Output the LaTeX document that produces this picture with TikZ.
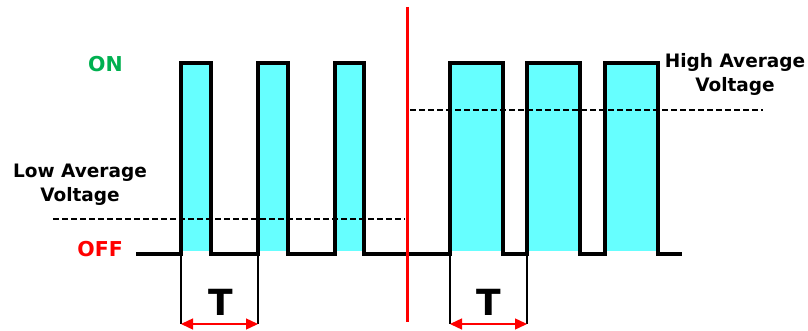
\documentclass[tikz,border=0pt]{standalone}
\usepackage{fontspec}
\setmainfont{DejaVu Sans}
\usepackage{tikz}
\usetikzlibrary{arrows.meta}
\definecolor{pulsecyan}{RGB}{102,255,255}
\definecolor{ongreen}{RGB}{0,176,80}

\begin{document}
\begin{tikzpicture}[x=1pt, y=-1pt]
        \useasboundingbox (0,0) rectangle (808,331);

        % Pulse fills
        \fill[pulsecyan] (181,63) rectangle (211,251);
        \fill[pulsecyan] (258,63) rectangle (288,251);
        \fill[pulsecyan] (335,63) rectangle (364,251);
        \fill[pulsecyan] (450,63) rectangle (503,251);
        \fill[pulsecyan] (527,63) rectangle (580,251);
        \fill[pulsecyan] (605,63) rectangle (658,251);

        % Average levels
        \draw[line width=1.9pt, dash pattern=on 6pt off 3pt] (53,219) -- (405,219);
        \draw[line width=1.9pt, dash pattern=on 6pt off 3pt] (410,110) -- (763,110);

        % Signal
        \draw[line width=3.3pt, line join=miter]
            (136,254) -- (181,254) -- (181,63) -- (211,63) -- (211,254)
            -- (258,254) -- (258,63) -- (288,63) -- (288,254)
            -- (335,254) -- (335,63) -- (364,63) -- (364,254)
            -- (450,254) -- (450,63) -- (503,63) -- (503,254)
            -- (527,254) -- (527,63) -- (580,63) -- (580,254)
            -- (605,254) -- (605,63) -- (658,63) -- (658,254) -- (682,254);

        % Divider
        \draw[red, line width=3pt] (407,7) -- (407,322);

        % Period markers
        \coordinate (a1) at (181,254);
        \coordinate (b1) at (258,254);
        \coordinate (a2) at (450,254);
        \coordinate (b2) at (527,254);
        \coordinate (a1e) at (181,324);
        \coordinate (b1e) at (258,324);
        \coordinate (a2e) at (450,324);
        \coordinate (b2e) at (527,324);
        \draw[line width=1.4pt] (a1) -- (a1e);
        \draw[line width=1.4pt] (b1) -- (b1e);
        \draw[line width=1.4pt] (a2) -- (a2e);
        \draw[line width=1.4pt] (b2) -- (b2e);
        \draw[red, line width=1.4pt, {Triangle[length=12pt, width=11pt]}-{Triangle[length=12pt, width=11pt]}] (a1e) -- (b1e);
        \draw[red, line width=1.4pt, {Triangle[length=12pt, width=11pt]}-{Triangle[length=12pt, width=11pt]}] (a2e) -- (b2e);

        % Labels
        \node[anchor=east, inner sep=0pt, text=ongreen, font=\fontsize{20.5}{24}\selectfont\bfseries] (on) at (123,64.5) {ON};
        \node[anchor=east, inner sep=0pt, text=red, font=\fontsize{20.5}{24}\selectfont\bfseries] (off) at (123,249.5) {OFF};
        \node[inner sep=0pt, font=\fontsize{36}{40}\selectfont\bfseries] (t1) at (221,302) {T};
        \node[inner sep=0pt, font=\fontsize{36}{40}\selectfont\bfseries] (t2) at (489,302) {T};
        \node[inner sep=0pt, align=center, font=\fontsize{18.5}{24}\selectfont\bfseries] (low) at (80,184.5) {Low Average\\Voltage};
        \node[inner sep=0pt, align=center, font=\fontsize{18.5}{24}\selectfont\bfseries] (high) at (735,74.5) {High Average\\Voltage};
    \end{tikzpicture}
\end{document}
